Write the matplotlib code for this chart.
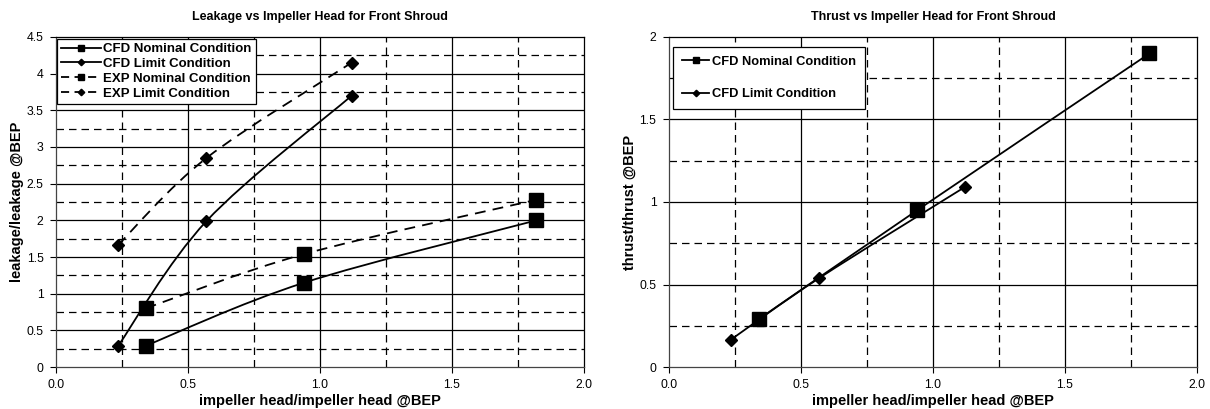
import matplotlib
matplotlib.use("Agg")
import matplotlib.pyplot as plt
import numpy as np
from matplotlib.path import Path
from matplotlib.patches import PathPatch
from matplotlib.lines import Line2D

plt.rcParams['font.family'] = ['Liberation Sans', 'DejaVu Sans']

# leakage chart data
cfd_nom_x = [0.34, 0.94, 1.82]
cfd_nom_leak = [0.29, 1.15, 2.00]
cfd_lim_x = [0.234, 0.57, 1.12]
cfd_lim_leak = [0.28, 1.99, 3.70]
exp_nom_x = [0.34, 0.94, 1.82]
exp_nom_leak = [0.80, 1.54, 2.28]
exp_lim_x = [0.234, 0.57, 1.12]
exp_lim_leak = [1.66, 2.85, 4.15]

# thrust chart data
cfd_nom_thrust = [0.29, 0.95, 1.90]
cfd_lim_thrust = [0.165, 0.54, 1.09]

xtick_labels = ['0.0', '0.5', '1.0', '1.5', '2.0']


def smooth_path(x, y, t=1 / 6):
    # Excel-like smoothed line as cubic Bezier segments
    p = np.column_stack([x, y])
    verts = [p[0]]
    codes = [Path.MOVETO]
    n = len(p)
    for i in range(n - 1):
        p0 = p[i - 1] if i > 0 else p[i]
        p3 = p[i + 2] if i + 2 < n else p[i + 1]
        c1 = p[i] + (p[i + 1] - p0) * t
        c2 = p[i + 1] - (p3 - p[i]) * t
        verts += [c1, c2, p[i + 1]]
        codes += [Path.CURVE4] * 3
    return Path(verts, codes)


def series(ax, x, y, marker, ls, ms, lw=1.3):
    ax.add_patch(PathPatch(smooth_path(x, y), fill=False, ec='black', lw=lw,
                           ls=ls, zorder=3))
    ax.plot(x, y, ls='none', marker=marker, ms=ms, color='black', zorder=4)


def grid(ax, ymax):
    for v in np.arange(0.25, 2.0, 0.5):
        ax.axvline(v, color='black', lw=0.9, ls=(0, (6, 4)), zorder=1)
    for v in np.arange(0.5, 2.0, 0.5):
        ax.axvline(v, color='black', lw=0.9, zorder=1)
    for v in np.arange(0.25, ymax, 0.5):
        ax.axhline(v, color='black', lw=0.9, ls=(0, (6, 4)), zorder=1)
    for v in np.arange(0.5, ymax, 0.5):
        ax.axhline(v, color='black', lw=0.9, zorder=1)


W, H = 1210, 409
fig = plt.figure(figsize=(W / 100, H / 100), dpi=100)
ax1 = fig.add_axes([56 / W, 1 - 367 / H, 528 / W, 330 / H])
ax2 = fig.add_axes([669 / W, 1 - 367 / H, 528 / W, 330 / H])

dash = (0, (6, 4))
SQ, DI = 9.4, 6.2

# left chart
grid(ax1, 4.5)
series(ax1, cfd_nom_x, cfd_nom_leak, 's', '-', SQ)
series(ax1, cfd_lim_x, cfd_lim_leak, 'D', '-', DI)
series(ax1, exp_nom_x, exp_nom_leak, 's', dash, SQ)
series(ax1, exp_lim_x, exp_lim_leak, 'D', dash, DI)
ax1.set_ylim(0, 4.5)
ax1.set_yticks(np.arange(0, 4.51, 0.5))
ax1.set_yticklabels(['0', '0.5', '1', '1.5', '2', '2.5', '3', '3.5', '4', '4.5'])
ax1.set_title('Leakage vs Impeller Head for Front Shroud', fontsize=9,
              fontweight='bold', pad=12)
ax1.set_ylabel('leakage/leakage @BEP', fontsize=10.5, fontweight='bold', labelpad=2)

h1 = [Line2D([], [], color='black', lw=1.3, marker='s', ms=5),
      Line2D([], [], color='black', lw=1.3, marker='D', ms=3.3),
      Line2D([], [], color='black', lw=1.3, ls=(0, (4.5, 3)), marker='s', ms=5),
      Line2D([], [], color='black', lw=1.3, ls=(0, (4.5, 3)), marker='D', ms=3.3)]
leg1 = ax1.legend(h1, ['CFD Nominal Condition', 'CFD Limit Condition',
                       'EXP Nominal Condition', 'EXP Limit Condition'],
                  loc='upper left', bbox_to_anchor=(0.002, 0.994), fancybox=False,
                  edgecolor='black', framealpha=1,
                  prop={'weight': 'bold', 'size': 9.5}, handlelength=3.0,
                  labelspacing=0.2, borderaxespad=0.0, borderpad=0.3,
                  handletextpad=0.2)

# right chart
grid(ax2, 2.0)
series(ax2, cfd_nom_x, cfd_nom_thrust, 's', '-', SQ)
series(ax2, cfd_lim_x, cfd_lim_thrust, 'D', '-', DI)
ax2.set_ylim(0, 2)
ax2.set_yticks(np.arange(0, 2.01, 0.5))
ax2.set_yticklabels(['0', '0.5', '1', '1.5', '2'])
ax2.set_title('Thrust vs Impeller Head for Front Shroud', fontsize=9,
              fontweight='bold', pad=12)
ax2.set_ylabel('thrust/thrust @BEP', fontsize=10.5, fontweight='bold', labelpad=2)

h2 = [Line2D([], [], color='black', lw=1.3, marker='s', ms=5),
      Line2D([], [], color='black', lw=1.3, marker='D', ms=3.3)]
leg2 = ax2.legend(h2, ['CFD Nominal Condition', 'CFD Limit Condition'],
                  loc='upper left', bbox_to_anchor=(0.008, 0.97), fancybox=False,
                  edgecolor='black', framealpha=1,
                  prop={'weight': 'bold', 'size': 9.3}, handlelength=2.1,
                  labelspacing=1.55, borderaxespad=0.0, borderpad=0.7,
                  handletextpad=0.2)

for leg in (leg1, leg2):
    leg.get_frame().set_linewidth(0.9)
    leg.set_zorder(5)

for ax in (ax1, ax2):
    ax.set_xlim(0, 2)
    ax.set_xticks(np.arange(0, 2.01, 0.5))
    ax.set_xticklabels(xtick_labels)
    ax.set_xlabel('impeller head/impeller head @BEP', fontsize=10.5,
                  fontweight='bold', labelpad=2)
    ax.tick_params(labelsize=8.8, length=4, direction='out', width=0.8, pad=5)
    for s in ax.spines.values():
        s.set_linewidth(0.9)
    ax.spines['left'].set_color('#444444')
    ax.spines['bottom'].set_color('#444444')

fig.savefig('out.png', dpi=100)
